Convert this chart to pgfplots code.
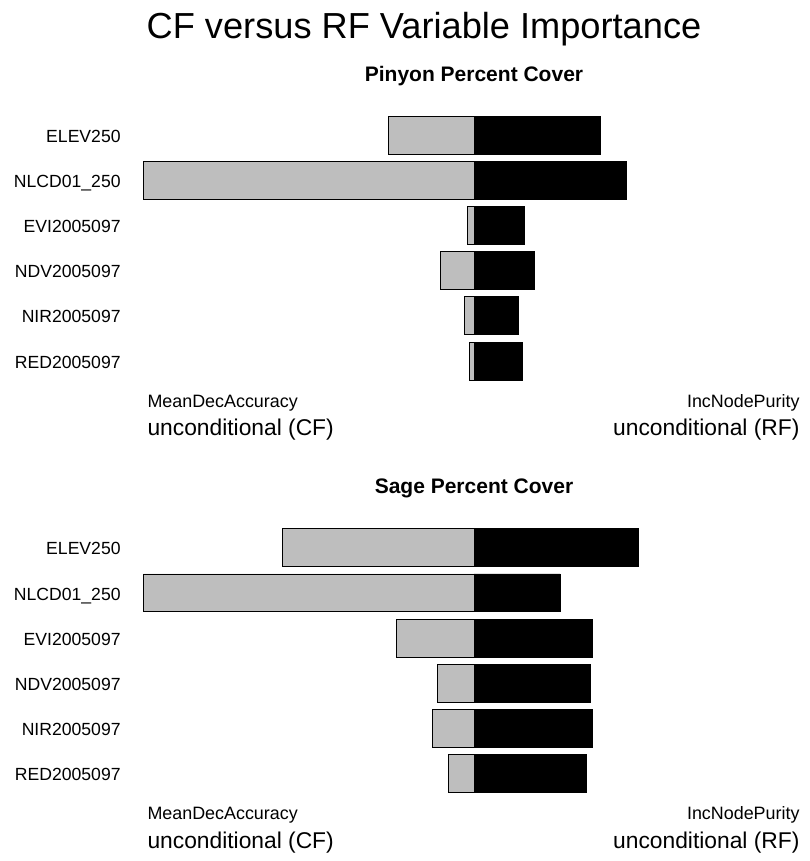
\documentclass[border=0pt]{standalone}
\usepackage{fontspec}
\setmainfont{Liberation Sans}
\usepackage{pgfplots}
\usepackage{pgfplotstable}
\pgfplotsset{compat=1.18}
\definecolor{rgray}{RGB}{190,190,190}

% y = row, cf = MeanDecAccuracy (left, gray), rf = IncNodePurity (right, black)
\pgfplotstableread{
y cf rf
0 -85.3 126
1 -330.7 152
2 -6.7 50
3 -33.7 60.7
4 -9.3 44.3
5 -4.7 48.3
}\pinyon
\pgfplotstableread{
y cf rf
0 -191.3 164
1 -330.7 86
2 -78 118
3 -36.7 116.3
4 -41.7 118.3
5 -26 112.3
}\sage

\pgfplotsset{
  panel/.style={
    scale only axis, width=661.7bp, height=271.2bp,
    xmin=-330.7, xmax=331, ymin=-0.5, ymax=5.5, y dir=reverse,
    hide x axis, axis y line*=left, y axis line style={draw=none},
    ytick={0,...,5}, major tick length=0pt, ytick style={draw=none},
    yticklabels={ELEV250,NLCD01\_250,EVI2005097,NDV2005097,NIR2005097,RED2005097},
    yticklabel style={font=\fontsize{17.6bp}{20bp}\selectfont, anchor=base east, inner sep=0pt, xshift=-22.5bp, yshift=-7.2bp},
    clip=false,
  },
  cfbar/.style={xbar, bar width=0.84, bar shift=0pt, fill=rgray, draw=black, line width=0.8bp},
  rfbar/.style={xbar, bar width=0.84, bar shift=0pt, fill=black, draw=black, line width=0.8bp},
}

\begin{document}
\begin{tikzpicture}[x=1bp,y=1bp]
\path[use as bounding box] (0,0) rectangle (810,861);

\node[anchor=base] at (424,822.7) {\fontsize{36.2bp}{40bp}\selectfont CF versus RF Variable Importance};

\node[anchor=base] at (474,779.3) {\fontsize{21bp}{24bp}\selectfont\bfseries Pinyon Percent Cover};
\begin{axis}[panel, at={(143.3bp,477.4bp)}, anchor=south west]
\addplot[cfbar] table[x=cf, y=y] {\pinyon};
\addplot[rfbar] table[x=rf, y=y] {\pinyon};
\end{axis}
\node[anchor=base west] at (144,453.7) {\fontsize{17.9bp}{20bp}\selectfont MeanDecAccuracy};
\node[anchor=base west] at (144,425) {\fontsize{22.8bp}{26bp}\selectfont unconditional (CF)};
\node[anchor=base east] at (803,453.7) {\fontsize{17.9bp}{20bp}\selectfont IncNodePurity};
\node[anchor=base east] at (803,425) {\fontsize{22.8bp}{26bp}\selectfont unconditional (RF)};

\node[anchor=base] at (474,367.5) {\fontsize{21bp}{24bp}\selectfont\bfseries Sage Percent Cover};
\begin{axis}[panel, at={(143.3bp,64.7bp)}, anchor=south west]
\addplot[cfbar] table[x=cf, y=y] {\sage};
\addplot[rfbar] table[x=rf, y=y] {\sage};
\end{axis}
\node[anchor=base west] at (144,41) {\fontsize{17.9bp}{20bp}\selectfont MeanDecAccuracy};
\node[anchor=base west] at (144,12.3) {\fontsize{22.8bp}{26bp}\selectfont unconditional (CF)};
\node[anchor=base east] at (803,41) {\fontsize{17.9bp}{20bp}\selectfont IncNodePurity};
\node[anchor=base east] at (803,12.3) {\fontsize{22.8bp}{26bp}\selectfont unconditional (RF)};
\end{tikzpicture}
\end{document}
